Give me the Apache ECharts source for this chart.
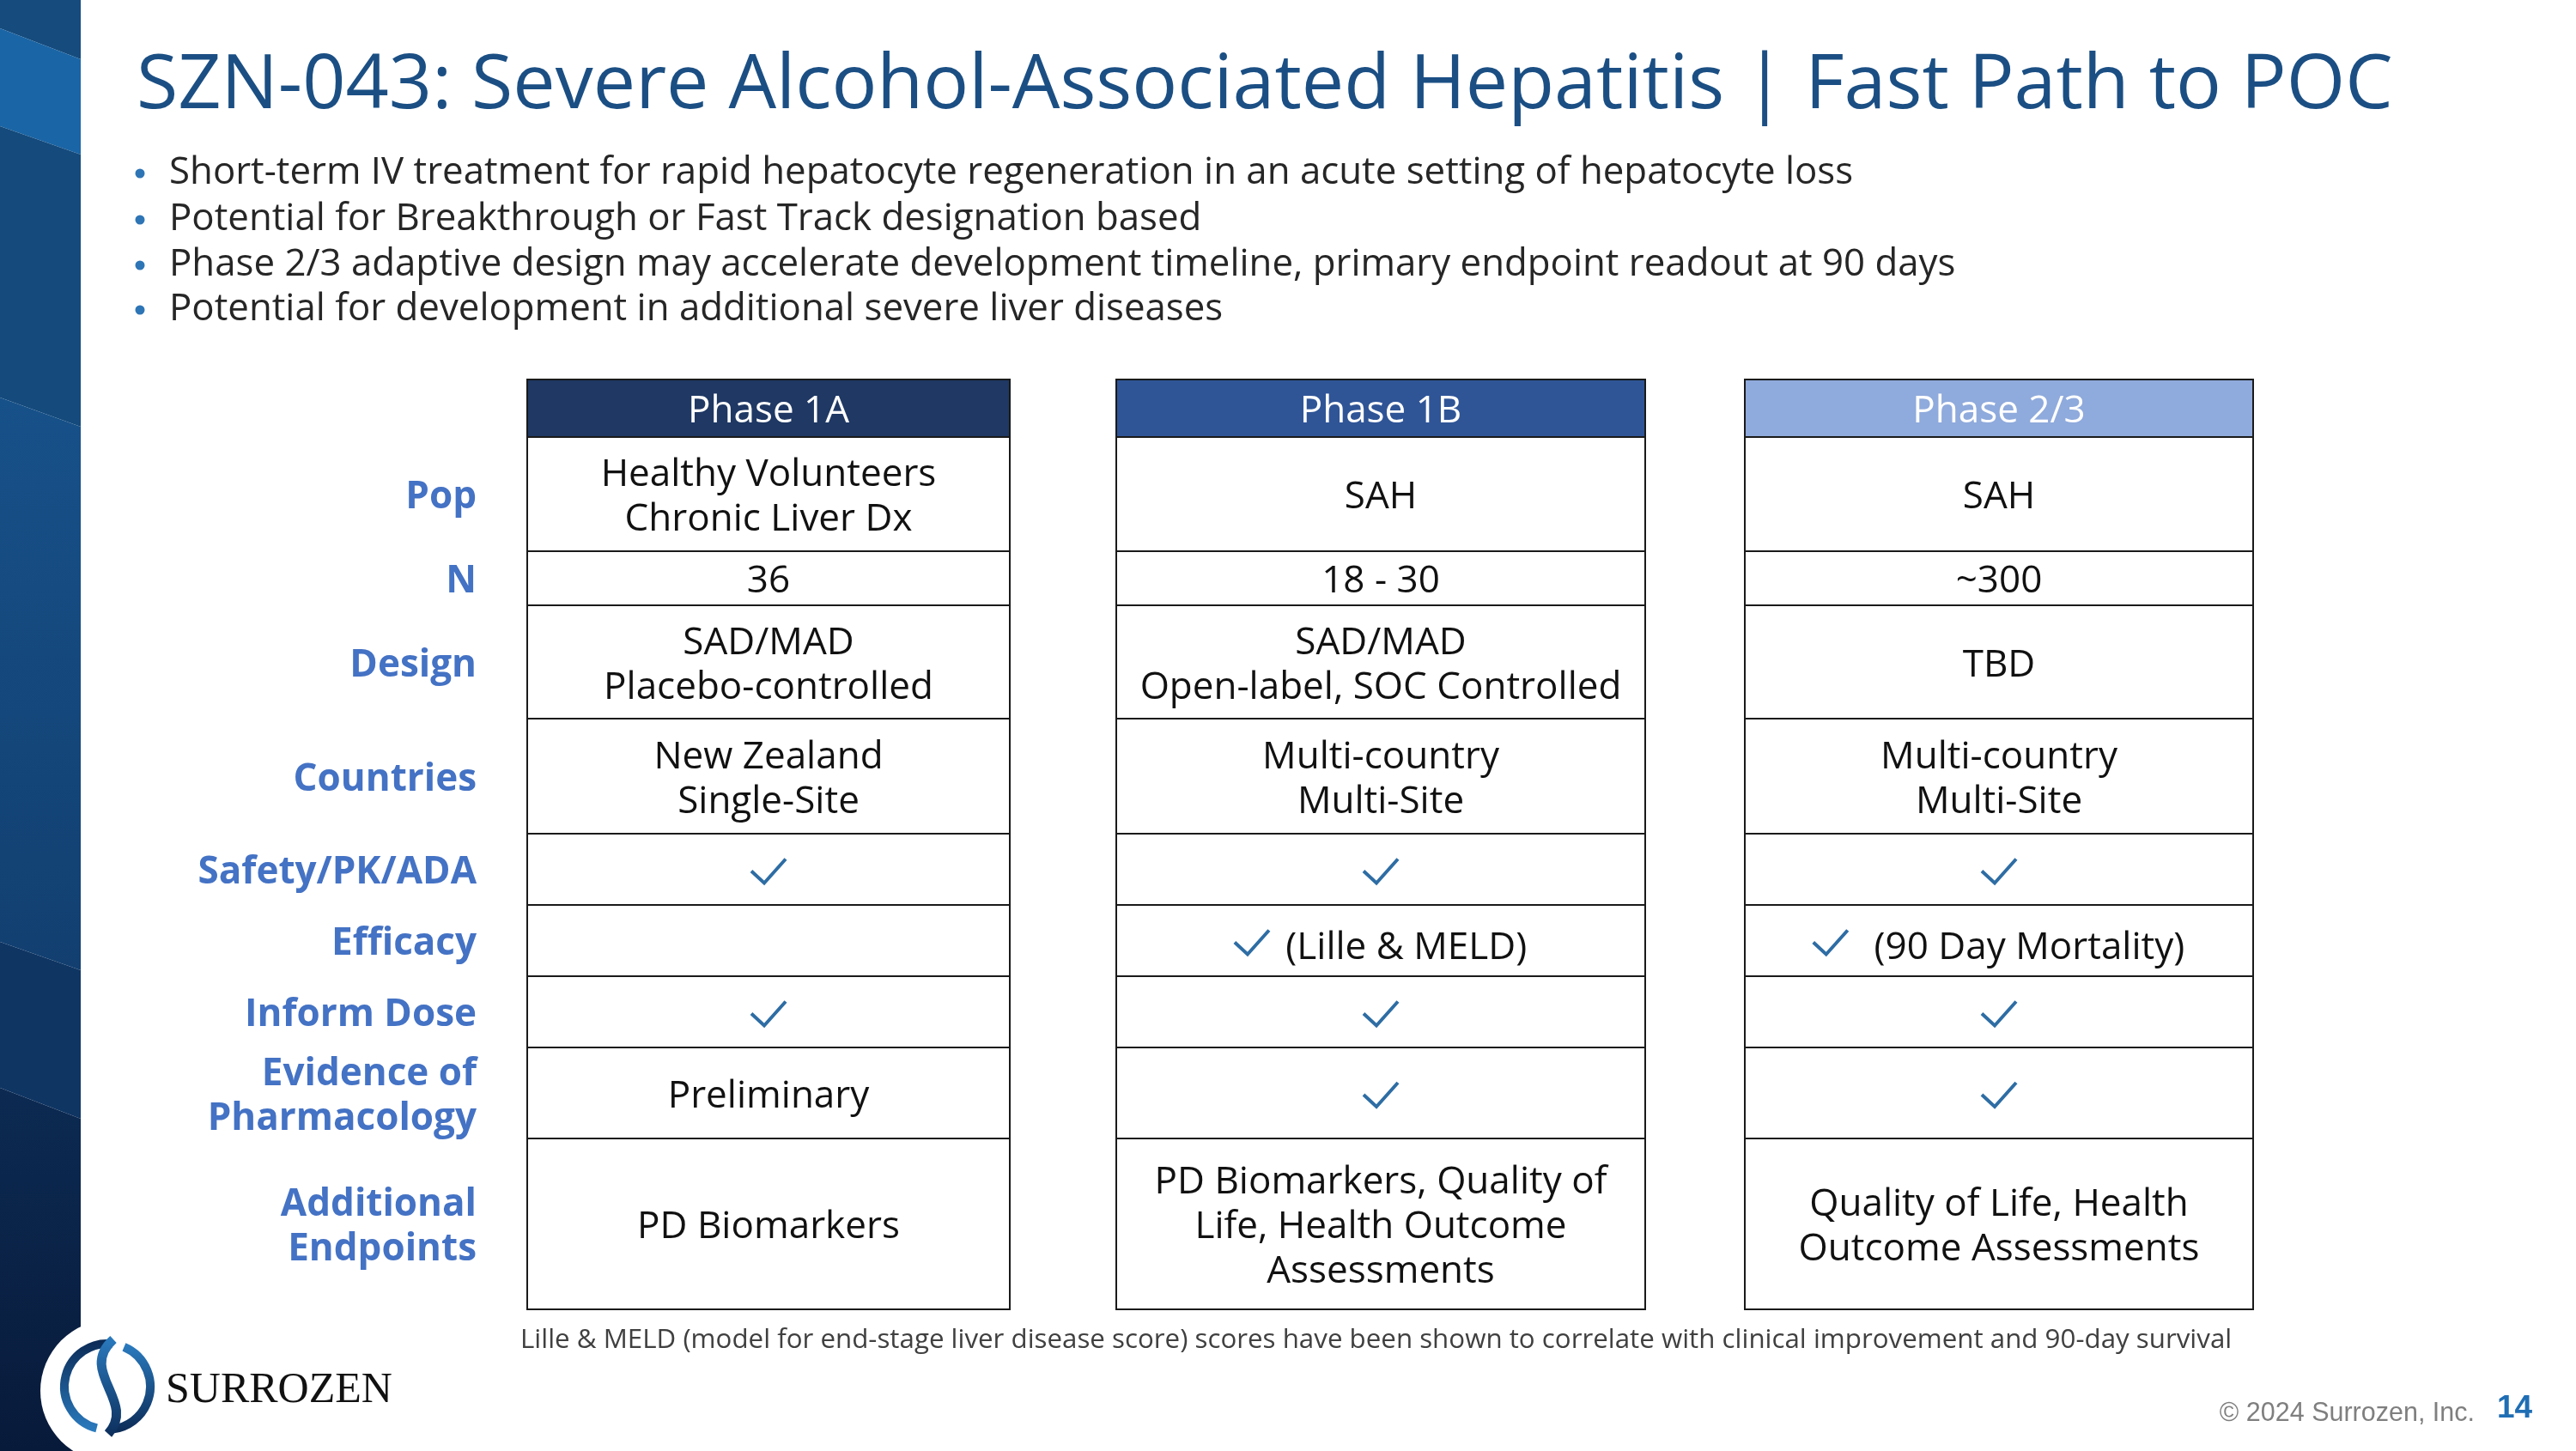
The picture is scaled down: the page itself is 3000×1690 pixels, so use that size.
<!DOCTYPE html>
<html><head><meta charset="utf-8">
<script src="https://cdn.jsdelivr.net/npm/echarts@6/dist/echarts.min.js"></script>
<style>html,body{margin:0;padding:0;background:#fff}#c{width:3000px;height:1690px}</style>
</head><body><div id="c"></div>
<script>
// ---------------- content ----------------
const titleText = 'SZN-043: Severe Alcohol-Associated Hepatitis | Fast Path to POC';
const bullets = [
  'Short-term IV treatment for rapid hepatocyte regeneration in an acute setting of hepatocyte loss',
  'Potential for Breakthrough or Fast Track designation based',
  'Phase 2/3 adaptive design may accelerate development timeline, primary endpoint readout at 90 days',
  'Potential for development in additional severe liver diseases'
];
const phases = ['Phase 1A', 'Phase 1B', 'Phase 2/3'];
const rowLabels = ['Pop', 'N', 'Design', 'Countries', 'Safety/PK/ADA', 'Efficacy', 'Inform Dose',
  'Evidence of\nPharmacology', 'Additional\nEndpoints'];
const phase1A = ['Healthy Volunteers\nChronic Liver Dx', '36', 'SAD/MAD\nPlacebo-controlled',
  'New Zealand\nSingle-Site', '✓', '', '✓', 'Preliminary', 'PD Biomarkers'];
const phase1B = ['SAH', '18 - 30', 'SAD/MAD\nOpen-label, SOC Controlled', 'Multi-country\nMulti-Site',
  '✓', '✓ (Lille & MELD)', '✓', '✓', 'PD Biomarkers, Quality of\nLife, Health Outcome\nAssessments'];
const phase23 = ['SAH', '~300', 'TBD', 'Multi-country\nMulti-Site',
  '✓', '✓  (90 Day Mortality)', '✓', '✓', 'Quality of Life, Health\nOutcome Assessments'];
const footnote = 'Lille & MELD (model for end-stage liver disease score) scores have been shown to correlate with clinical improvement and 90-day survival';
const copyright = '© 2024 Surrozen, Inc.';
const pageNumber = '14';
const brand = 'SURROZEN';

// ---------------- layout (slide units = px) ----------------
const PHASE_CELLS = [phase1A, phase1B, phase23];
const COL_X = [[614, 1176], [1300, 1916], [2032, 2624]];
const ROW_Y = [442, 509, 642, 705, 837, 971, 1054, 1137, 1220, 1326, 1525];
const HEADER_FILL = ['#1f3864', '#2f5597', '#8faadc'];
const LABEL_X = 555;
const FONT = '44px "Open Sans"';
const LABEL_FONT = 'bold 44px "Open Sans"';
const CHECK_COLOR = '#2e6da4';
const DY = 4;          // optical baseline correction for 44px text
const DY_MIXED = 9;    // text next to a check mark sits lower in its cell

const mctx = document.createElement('canvas').getContext('2d');
function textW(t, font) { mctx.font = font; return mctx.measureText(t).width; }

function checkEl(left, top) {
  return { type: 'polyline', shape: { points: [[left, top + 14], [left + 15, top + 28], [left + 40, top]] },
    style: { stroke: CHECK_COLOR, lineWidth: 4, fill: null } };
}

function renderCell(params, api) {
  const p = api.value(0), r = api.value(1);
  const tl = api.coord([COL_X[p][0], ROW_Y[r + 1]]);
  const br = api.coord([COL_X[p][1], ROW_Y[r + 2]]);
  const cx = (tl[0] + br[0]) / 2, cy = (tl[1] + br[1]) / 2;
  const children = [{
    type: 'rect', shape: { x: tl[0], y: tl[1], width: br[0] - tl[0], height: br[1] - tl[1] },
    style: { fill: r < 0 ? HEADER_FILL[p] : '#ffffff', stroke: '#1a1a1a', lineWidth: 2 }
  }];
  const txt = r < 0 ? phases[p] : PHASE_CELLS[p][r];
  if (txt && txt.charAt(0) === '✓') {
    const rest = txt.slice(1);
    if (!rest) {
      children.push(checkEl(cx - 20, cy - 12));
    } else {
      const w = 40 + 8 + textW(rest, FONT);
      const left = cx - w / 2;
      children.push(checkEl(left, cy - 12));
      children.push({ type: 'text', style: { text: rest, x: left + 48, y: cy + DY_MIXED, textAlign: 'left',
        textVerticalAlign: 'middle', font: FONT, fill: '#111' } });
    }
  } else if (txt) {
    children.push({ type: 'text', style: { text: txt, x: cx, y: cy + DY, textAlign: 'center',
      textVerticalAlign: 'middle', font: FONT, lineHeight: 52, fill: r < 0 ? '#ffffff' : '#111' } });
  }
  return { type: 'group', children };
}

function renderLabel(params, api) {
  const r = api.value(0);
  const pt = api.coord([LABEL_X, (ROW_Y[r + 1] + ROW_Y[r + 2]) / 2]);
  return { type: 'text', style: { text: rowLabels[r], x: pt[0], y: pt[1] + DY, textAlign: 'right',
    textVerticalAlign: 'middle', font: LABEL_FONT, lineHeight: 52, fill: '#4472c4' } };
}

const cellData = [];
phases.forEach((_, p) => { for (let r = -1; r < rowLabels.length; r++) cellData.push([p, r]); });
const labelData = rowLabels.map((_, i) => [i]);

// ---------------- decoration ----------------
const LG = (x0, y0, x1, y1, c0, c1) => new echarts.graphic.LinearGradient(x0, y0, x1, y1, [{ offset: 0, color: c0 }, { offset: 1, color: c1 }]);
const graphics = [
  { type: 'polygon', shape: { points: [[0, 0], [94, 0], [94, 69], [0, 33]] }, style: { fill: '#154b7d' } },
  { type: 'polygon', shape: { points: [[0, 33], [94, 69], [94, 180], [0, 147]] }, style: { fill: '#1a65a5' } },
  { type: 'polygon', shape: { points: [[0, 147], [94, 180], [94, 497], [0, 463]] }, style: { fill: '#144a7c' } },
  { type: 'polygon', shape: { points: [[0, 463], [94, 497], [94, 1130], [0, 1097]] }, style: { fill: LG(0, 0, 0, 1, '#175189', '#123f70') } },
  { type: 'polygon', shape: { points: [[0, 1097], [94, 1130], [94, 1303], [0, 1267]] }, style: { fill: '#0f3563' } },
  { type: 'polygon', shape: { points: [[0, 1267], [94, 1303], [94, 1690], [0, 1690]] }, style: { fill: LG(0, 0, 0, 1, '#0c2a52', '#081a3a') } },
  { type: 'circle', shape: { cx: 130, cy: 1620, r: 83 }, style: { fill: '#ffffff' } },
  { type: 'arc', shape: { cx: 125, cy: 1615, r: 50, startAngle: Math.PI / 2 + 0.25, endAngle: Math.PI * 1.5 + 0.12 },
    style: { stroke: LG(0, 0, 0, 1, '#0b2a55', '#2b7cc0'), lineWidth: 10, fill: null } },
  { type: 'arc', shape: { cx: 125, cy: 1615, r: 50, startAngle: -Math.PI / 2 + 0.4, endAngle: Math.PI / 2 - 0.12 },
    style: { stroke: LG(0, 0, 0, 1, '#2b7cc0', '#0b2a55'), lineWidth: 10, fill: null } },
  { type: 'bezierCurve', shape: { x1: 132, y1: 1560, cpx1: 90, cpy1: 1598, cpx2: 160, cpy2: 1632, x2: 126, y2: 1670 },
    style: { stroke: LG(0, 0, 0, 1, '#2b7cc0', '#0c2d5a'), lineWidth: 11, fill: null } },
  { type: 'text', style: { text: brand, x: 193, y: 1620, font: '50px "Liberation Serif"', fill: '#111',
    textAlign: 'left', textVerticalAlign: 'middle' } },
  { type: 'text', style: { text: titleText, x: 159, y: 101, font: '88px "Open Sans"', fill: '#1b4f84',
    textAlign: 'left', textVerticalAlign: 'middle' } },
  { type: 'text', style: { text: footnote, x: 606, y: 1561, font: '31.3px "Open Sans"', fill: '#404040',
    textAlign: 'left', textVerticalAlign: 'middle' } },
  { type: 'text', style: { text: copyright, x: 2882, y: 1647, font: '30.5px "Liberation Sans"', fill: '#7f7f7f',
    textAlign: 'right', textVerticalAlign: 'middle' } },
  { type: 'text', style: { text: pageNumber, x: 2908, y: 1641, font: 'bold 37px "Liberation Sans"', fill: '#1f6eb4',
    textAlign: 'left', textVerticalAlign: 'middle' } }
];
const BULLET_Y = [198, 252, 305, 357];
bullets.forEach((b, i) => {
  graphics.push({ type: 'circle', shape: { cx: 163, cy: BULLET_Y[i] + 4, r: 5.5 }, style: { fill: '#2e75b6' } });
  graphics.push({ type: 'text', style: { text: b, x: 197, y: BULLET_Y[i] + DY, font: '43.8px "Open Sans"', fill: '#262626',
    textAlign: 'left', textVerticalAlign: 'middle' } });
});

const chart = echarts.init(document.getElementById('c'), null, { renderer: 'canvas' });
chart.setOption({
  animation: false,
  backgroundColor: '#ffffff',
  grid: { left: 0, top: 0, width: 3000, height: 1690, containLabel: false },
  xAxis: { type: 'value', min: 0, max: 3000, show: false },
  yAxis: { type: 'value', min: 0, max: 1690, inverse: true, show: false },
  graphic: { elements: graphics.map(g => Object.assign({ silent: true }, g)) },
  series: [
    { type: 'custom', name: 'cells', coordinateSystem: 'cartesian2d', data: cellData, renderItem: renderCell, silent: true, clip: false },
    { type: 'custom', name: 'labels', coordinateSystem: 'cartesian2d', data: labelData, renderItem: renderLabel, silent: true, clip: false }
  ]
});
</script></body></html>
